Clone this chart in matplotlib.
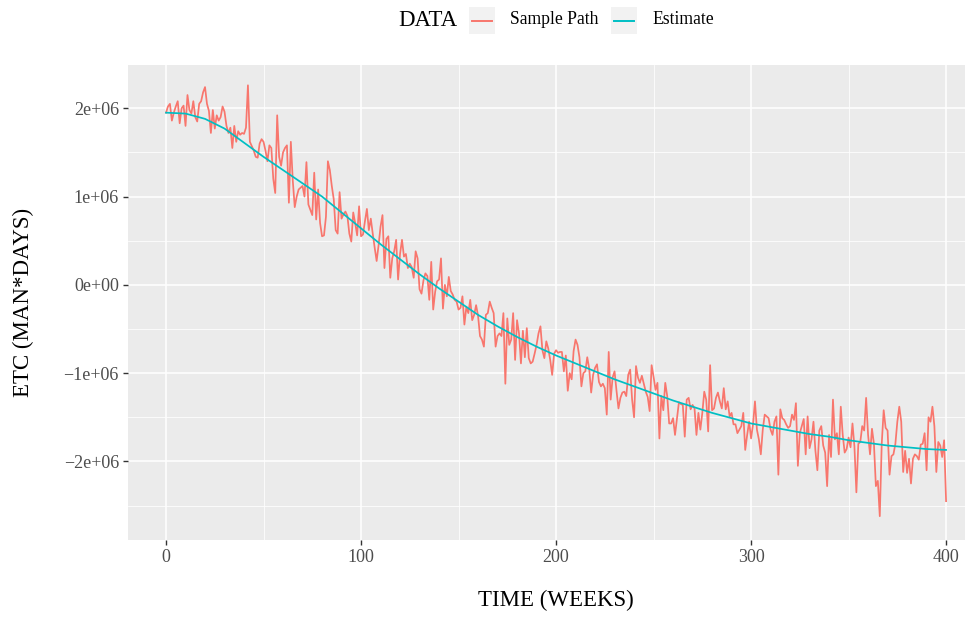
import numpy as np
import matplotlib.pyplot as plt
from matplotlib.patches import Rectangle
from matplotlib.lines import Line2D
from matplotlib.ticker import FixedLocator

plt.rcParams['font.family'] = ['Liberation Serif', 'DejaVu Serif']

# ETC sample path, one value per week, in millions of man-days
sample_path = [
    1.95, 2.02, 2.05, 1.86, 1.95, 2.02, 2.08, 1.83, 2.00, 2.03, 1.80, 2.15, 1.98, 1.94, 2.08, 1.90, 1.85, 2.05, 2.08, 2.18,
    2.24, 2.05, 1.97, 1.72, 1.98, 1.77, 1.92, 1.86, 1.90, 2.02, 1.96, 1.80, 1.72, 1.78, 1.55, 1.80, 1.62, 1.74, 1.70, 1.72,
    1.71, 1.78, 2.26, 1.62, 1.57, 1.52, 1.45, 1.44, 1.60, 1.65, 1.62, 1.52, 1.40, 1.58, 1.55, 1.20, 1.04, 1.92, 1.45, 1.35,
    1.50, 1.55, 1.58, 0.93, 1.62, 1.18, 0.88, 1.00, 1.08, 1.10, 1.12, 1.00, 1.39, 0.91, 0.85, 0.79, 1.27, 0.74, 1.08, 0.70,
    0.55, 0.56, 0.77, 1.40, 1.30, 1.12, 0.97, 0.62, 0.58, 1.05, 0.75, 0.80, 0.83, 0.78, 0.58, 0.49, 0.82, 0.70, 0.56, 0.89,
    0.55, 0.57, 0.72, 0.86, 0.62, 0.75, 0.58, 0.42, 0.27, 0.45, 0.66, 0.79, 0.19, 0.52, 0.55, 0.08, 0.30, 0.38, 0.51, 0.06,
    0.35, 0.51, 0.32, 0.35, 0.19, 0.24, 0.20, 0.08, 0.38, 0.30, -0.05, -0.10, 0.05, 0.13, 0.10, -0.17, 0.26, -0.28, -0.08, 0.04,
    0.06, 0.30, -0.27, 0.00, -0.13, 0.09, -0.07, -0.11, -0.17, -0.19, -0.28, -0.26, -0.13, -0.45, -0.25, -0.32, -0.17, -0.40, -0.34, -0.23,
    -0.35, -0.58, -0.62, -0.70, -0.34, -0.32, -0.19, -0.26, -0.32, -0.70, -0.58, -0.55, -0.58, -0.32, -1.12, -0.38, -0.68, -0.62, -0.32, -0.85,
    -0.40, -0.55, -0.89, -0.52, -0.82, -0.49, -0.83, -0.89, -0.87, -0.78, -0.68, -0.55, -0.47, -0.74, -0.83, -0.64, -0.72, -0.85, -1.02, -0.78,
    -0.74, -0.77, -0.76, -0.76, -0.98, -0.80, -1.20, -1.00, -1.07, -0.75, -0.62, -0.68, -0.82, -1.15, -1.00, -0.98, -0.82, -0.95, -1.22, -1.02,
    -0.94, -0.90, -1.10, -1.15, -1.12, -1.17, -1.47, -0.76, -1.30, -1.05, -0.98, -1.20, -1.40, -1.28, -1.22, -1.21, -1.26, -1.02, -0.96, -1.30,
    -1.50, -0.92, -1.05, -1.11, -1.03, -1.12, -1.21, -1.27, -1.43, -0.91, -1.04, -1.19, -1.11, -1.74, -1.26, -1.42, -1.11, -1.26, -1.57, -1.57,
    -1.51, -1.70, -1.52, -1.33, -1.35, -1.36, -1.72, -1.30, -1.28, -1.41, -1.36, -1.40, -1.70, -1.45, -1.64, -1.45, -1.21, -1.30, -1.66, -0.91,
    -1.42, -1.40, -1.28, -1.22, -1.32, -1.40, -1.17, -1.41, -1.32, -1.49, -1.45, -1.58, -1.58, -1.68, -1.64, -1.60, -1.45, -1.87, -1.70, -1.55,
    -1.74, -1.58, -1.32, -1.64, -1.75, -1.92, -1.64, -1.47, -1.49, -1.51, -1.64, -1.70, -1.55, -1.49, -2.15, -1.41, -1.51, -1.53, -1.58, -1.62,
    -1.60, -1.47, -1.53, -1.34, -2.05, -1.68, -1.60, -1.52, -1.92, -1.49, -1.85, -1.75, -1.55, -1.88, -2.10, -1.65, -1.60, -1.82, -1.90, -2.28,
    -1.70, -1.95, -1.30, -1.75, -1.68, -1.92, -1.38, -1.70, -1.90, -1.86, -1.73, -1.84, -1.57, -1.83, -2.35, -1.80, -1.78, -1.60, -1.65, -1.28,
    -1.70, -1.92, -1.63, -1.80, -2.28, -2.22, -2.62, -1.80, -1.42, -1.62, -1.65, -2.15, -1.94, -1.92, -1.80, -1.55, -1.38, -1.55, -2.12, -1.88,
    -2.13, -1.97, -2.25, -1.97, -1.92, -1.94, -1.98, -1.81, -1.80, -1.68, -2.10, -1.50, -1.55, -1.38, -1.60, -2.12, -1.78, -1.82, -1.95, -1.76,
    -2.45,
]

# fitted ETC curve, every 10 weeks, in millions
est_weeks = list(range(0, 401, 10))
estimate = [
    1.95, 1.94, 1.88, 1.77, 1.61, 1.45, 1.30, 1.15, 1.00, 0.82,
    0.64, 0.46, 0.29, 0.12, -0.04, -0.19, -0.34, -0.47, -0.59, -0.70,
    -0.80, -0.89, -0.98, -1.07, -1.15, -1.23, -1.31, -1.38, -1.45, -1.51,
    -1.57, -1.61, -1.65, -1.69, -1.72, -1.76, -1.79, -1.82, -1.84, -1.86,
    -1.87,
]

weeks = np.arange(len(sample_path))
path = np.array(sample_path) * 1e6
est = np.array(estimate) * 1e6

red = '#F8766D'
teal = '#00BFC4'

W, H = 977, 619
fig = plt.figure(figsize=(W / 100, H / 100), dpi=100)
ax = fig.add_axes([128 / W, 1 - 540 / H, (965 - 128) / W, (540 - 65) / H])

ax.plot(weeks, path, color=red, lw=1.25, zorder=3)
ax.plot(est_weeks, est, color=teal, lw=1.25, zorder=4)

ax.set_xlim(-19.5, 409.7)
ax.set_ylim(-2.89e6, 2.49e6)

ax.set_facecolor('#EBEBEB')
for s in ax.spines.values():
    s.set_visible(False)
ax.set_xticks([0, 100, 200, 300, 400])
ax.set_yticks([-2e6, -1e6, 0, 1e6, 2e6])
ax.set_yticklabels(['\u22122e+06', '\u22121e+06', '0e+00', '1e+06', '2e+06'])
ax.xaxis.set_minor_locator(FixedLocator([50, 150, 250, 350]))
ax.yaxis.set_minor_locator(FixedLocator([-2.5e6, -1.5e6, -0.5e6, 0.5e6, 1.5e6]))
ax.grid(which='major', color='white', lw=1.1, zorder=0)
ax.grid(which='minor', color='white', lw=0.55, zorder=0)
ax.set_axisbelow(True)
ax.tick_params(which='major', length=3.5, width=1.0, color='#333333',
               labelcolor='#4D4D4D', labelsize=13, pad=3)
ax.tick_params(which='minor', length=0)

ax.set_xlabel('TIME (WEEKS)', fontsize=16.5, labelpad=20.5)
ax.set_ylabel('ETC (MAN*DAYS)', fontsize=16.5, labelpad=21)
ax.xaxis.set_label_coords(0.511, -0.105)

# legend strip across the top
def fx(px):
    return px / W

def fy(py):
    return 1 - py / H

fig.text(fx(398), fy(20), 'DATA', fontsize=16.5, va='center', ha='left')
keys = [(469, red, 'Sample Path'), (611, teal, 'Estimate')]
for x0, col, lab in keys:
    fig.add_artist(Rectangle((fx(x0), fy(34)), 26 / W, 27 / H,
                             transform=fig.transFigure, facecolor='#F2F2F2',
                             edgecolor='none'))
    fig.add_artist(Line2D([fx(x0 + 3), fx(x0 + 23)], [fy(20.5), fy(20.5)],
                          transform=fig.transFigure, color=col, lw=1.4))
    fig.text(fx(x0 + 41), fy(20), lab, fontsize=12.7, va='center', ha='left')

fig.savefig('out.png', dpi=100)
